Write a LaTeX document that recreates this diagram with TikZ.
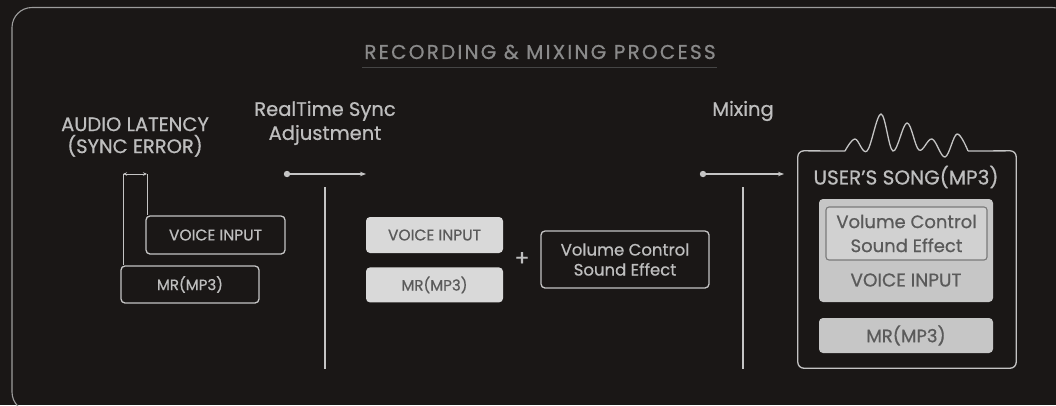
\documentclass[tikz,border=0pt]{standalone}
\usepackage{fontspec}
\setmainfont{Poppins}[FakeBold=0.7]
\usepackage{tikz}
\usetikzlibrary{arrows.meta, positioning, calc}
\definecolor{bgdark}{HTML}{1A1716}
\definecolor{lightline}{HTML}{C4C4C4}
\definecolor{lighttext}{HTML}{BEBEBE}
\definecolor{titlegray}{HTML}{8A8A8A}
\definecolor{ruleGray}{HTML}{454545}
\definecolor{boxfill}{HTML}{D9D9D9}
\definecolor{songfill}{HTML}{C6C6C6}
\definecolor{darktext}{HTML}{5A5A5A}
\tikzstyle{arrow} = [line width=1.1pt, -{Stealth[length=6pt,width=4.5pt]}, lightline]
\tikzstyle{outlinebox} = [rectangle, rounded corners=4pt, draw=lightline, line width=1.3pt,
                          text=lighttext, align=center, inner sep=0pt]
\tikzstyle{filledbox} = [rectangle, rounded corners=4pt, fill=boxfill, text=darktext,
                         align=center, inner sep=0pt]
\tikzstyle{label} = [text=lighttext, align=center, inner sep=0pt]

\begin{document}
\begin{tikzpicture}[x=1pt, y=-1pt]
    \useasboundingbox (0,0) rectangle (1056,405);
    \fill[bgdark] (0,0) rectangle (1056,405);
    % Outer frame
    \begin{scope}
        \clip (0,0) rectangle (1056,405);
        \draw[line width=1.1pt, lightline!80!black, rounded corners=20pt] (12,7.5) rectangle (1072,412);
    \end{scope}

    % Title
    \node[text=titlegray, font=\fontsize{20}{22}\selectfont\addfontfeatures{LetterSpace=11}] (title) at (540,52) {RECORDING \& MIXING PROCESS};
    \draw[ruleGray, line width=1pt] (362,67) -- (717,67);

    % Stage labels
    \node[label, font=\fontsize{19.5}{22}\selectfont] (latency) at (135,137) {AUDIO LATENCY\\(SYNC ERROR)};
    \node[label, font=\fontsize{19.5}{24}\selectfont] (realtime) at (325,123) {RealTime Sync\\Adjustment};
    \node[label, font=\fontsize{19.5}{24}\selectfont] (mixing) at (743,111) {Mixing};

    % Stage 1 - unsynced tracks
    \node[outlinebox, minimum width=139pt, minimum height=38pt, font=\fontsize{15.5}{17}\selectfont] (voice1) at (215.5,235) {VOICE INPUT};
    \node[outlinebox, minimum width=138pt, minimum height=37pt, font=\fontsize{15}{17}\selectfont] (mr1) at (190,284.5) {MR(MP3)};
    \coordinate (lat1) at (123,174);
    \coordinate (lat2) at (147,174);
    \draw[lightline, line width=0.9pt] (lat1) -- (lat1 |- mr1.north);
    \draw[lightline, line width=0.9pt] (lat2) -- (lat2 |- voice1.north);
    \draw[lightline, line width=0.9pt, {Stealth[length=4pt,width=3.5pt]}-{Stealth[length=4pt,width=3.5pt]}] (lat1) -- (lat2);

    % Stage 2 - synced tracks
    \coordinate (sync1) at (287,174);
    \coordinate (sync2) at (366,174);
    \fill[lightline] (sync1) circle (3.2pt);
    \draw[arrow] (sync1) -- (sync2);
    \coordinate (sep1a) at (325,187);
    \coordinate (sep1b) at (325,369);
    \draw[lightline, line width=1.1pt] (sep1a) -- (sep1b);

    \node[filledbox, minimum width=137pt, minimum height=36pt, font=\fontsize{15.5}{17}\selectfont] (voice2) at (434.5,235) {VOICE INPUT};
    \node[filledbox, minimum width=137pt, minimum height=35pt, font=\fontsize{15}{17}\selectfont, below=14pt of voice2] (mr2) {MR(MP3)};
    \node[label, font=\fontsize{22}{22}\selectfont] (plus) at (522,259) {+};
    \node[outlinebox, minimum width=168pt, minimum height=57pt, font=\fontsize{16.5}{20}\selectfont] (effect) at (625,259.5) {Volume Control\\Sound Effect};

    % Stage 3 - mixing
    \coordinate (mix1) at (703,174);
    \coordinate (mix2) at (784,174);
    \fill[lightline] (mix1) circle (3.2pt);
    \draw[arrow] (mix1) -- (mix2);
    \coordinate (sep2a) at (743,187);
    \coordinate (sep2b) at (743,369);
    \draw[lightline, line width=1.1pt] (sep2a) -- (sep2b);

    \node[minimum width=218pt, minimum height=217pt, inner sep=0pt] (song) at (907,259.5) {};
    \coordinate (waveL) at (845,151);
    \coordinate (waveR) at (968,151);
    \draw[lightline, line width=1.3pt, rounded corners=6pt] (waveL) -- (song.north west) -- (song.south west) -- (song.south east) -- (song.north east) -- (waveR);
    \draw[lightline, line width=1.3pt] plot[smooth, tension=0.6] coordinates {(waveL) (855,139) (867,151) (881,114) (893,151) (907,123) (919,150) (932,139) (945,157) (957,134) (waveR)};
    \node[label, font=\fontsize{20}{22}\selectfont] (songtitle) at (906,177) {USER’S SONG(MP3)};

    \node[rectangle, rounded corners=4pt, fill=songfill, minimum width=174pt, minimum height=103pt, inner sep=0pt] (mixed) at (906,250.5) {};
    \node[rectangle, rounded corners=3pt, draw=darktext!70!songfill, line width=1.1pt, fill=songfill!80!white, text=darktext,
          minimum width=161pt, minimum height=53pt, inner sep=0pt, align=center, font=\fontsize{18}{24}\selectfont] (effect2) at (906.5,233.5) {Volume Control\\Sound Effect};
    \node[text=darktext, inner sep=0pt, font=\fontsize{18.5}{20}\selectfont] (voice3) at (906,280) {VOICE INPUT};
    \node[rectangle, rounded corners=4pt, fill=songfill, text=darktext, minimum width=174pt, minimum height=35pt,
          inner sep=0pt, font=\fontsize{18}{20}\selectfont] (mr3) at (906,335.5) {MR(MP3)};
\end{tikzpicture}
\end{document}
